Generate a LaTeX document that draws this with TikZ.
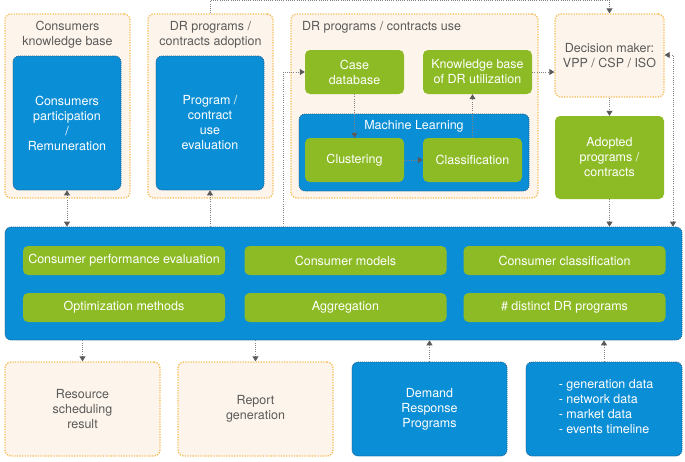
\documentclass[tikz,border=0pt]{standalone}
\usepackage{fontspec}
\setmainfont{TeX Gyre Heros}
\usetikzlibrary{arrows.meta}
\definecolor{drblue}{RGB}{10,142,214}
\definecolor{drdark}{RGB}{30,90,140}
\definecolor{drgreen}{RGB}{141,187,37}
\definecolor{drsand}{RGB}{253,245,235}
\definecolor{droran}{RGB}{246,190,90}
\definecolor{drtext}{RGB}{90,90,90}
\definecolor{drgrey}{RGB}{130,130,130}

\begin{document}
\begin{tikzpicture}[x=1pt,y=-1pt,
  every node/.style={font=\fontsize{12.5}{15}\selectfont, inner sep=0pt},
  obox/.style={draw=droran, fill=drsand, line width=1.3pt, dash pattern=on 1.3pt off 1.3pt, rounded corners=6pt},
  bbox/.style={draw=drdark, fill=drblue, line width=0.7pt, dash pattern=on 1pt off 1pt, rounded corners=6pt, text=white, align=center},
  gbox/.style={fill=drgreen, rounded corners=5pt, text=white, align=center},
  ttl/.style={text=drtext, align=center},
  link/.style={draw=drgrey, line width=0.8pt, dash pattern=on 1pt off 1.2pt, -{Triangle[width=6pt,length=5pt,color=drtext]}},
  both/.style={{Triangle[width=6pt,length=5pt,color=drtext]}-{Triangle[width=6pt,length=5pt,color=drtext]}}]

\useasboundingbox (0,0) rectangle (685,461);

% upper row
\node[obox, minimum width=125, minimum height=184] (kb) at (67.5,106) {};
\node[ttl] (kbt) at (67.5,35) {Consumers\\knowledge base};
\node[bbox, minimum width=108, minimum height=134] (cp) at (67,123) {Consumers\\participation\\/\\Remuneration};

\node[obox, minimum width=125, minimum height=184] (ad) at (210.5,106) {};
\node[ttl] (adt) at (210.5,35) {DR programs /\\contracts adoption};
\node[bbox, minimum width=108, minimum height=134] (ev) at (210,123) {Program /\\contract\\use\\evaluation};

\node[obox, minimum width=247, minimum height=184] (use) at (414.5,106) {};
\node[ttl, anchor=west] (uset) at (302,27) {DR programs / contracts use};
\node[gbox, minimum width=99, minimum height=44] (cd) at (354.5,72) {Case\\database};
\node[gbox, minimum width=109, minimum height=44] (kbu) at (477.5,72) {Knowledge base\\of DR utilization};
\node[bbox, minimum width=230, minimum height=77] (ml) at (414,152.5) {};
\node[text=white] (mlt) at (414,126) {Machine Learning};
\node[gbox, minimum width=99, minimum height=44] (cl) at (354.5,160) {Clustering};
\node[gbox, minimum width=99, minimum height=44] (cf) at (472.5,160) {Classification};

\node[obox, minimum width=109, minimum height=83] (dm) at (609.5,55.5) {};
\node[ttl] (dmt) at (609.5,56) {Decision maker:\\VPP / CSP / ISO};
\node[gbox, minimum width=109, minimum height=83] (ap) at (609.5,157.5) {Adopted\\programs /\\contracts};

% central block
\node[bbox, minimum width=677, minimum height=113] (bb) at (343.5,283.5) {};
\foreach \n/\x/\y/\t in {m1/124/260.5/Consumer performance evaluation,
                         m2/345.5/260.5/Consumer models,
                         m3/564.5/260.5/Consumer classification,
                         m4/124/307.5/Optimization methods,
                         m5/345.5/307.5/Aggregation,
                         m6/564.5/307.5/\# distinct DR programs}
{
\node[gbox, minimum width=202, minimum height=29] (\n) at (\x,\y) {\t};
}

% lower row
\node[obox, minimum width=155, minimum height=94] (rs) at (82.5,409) {};
\node[ttl] (rst) at (82.5,409) {Resource\\scheduling\\result};
\node[obox, minimum width=155, minimum height=94] (rg) at (255.5,409) {};
\node[ttl] (rgt) at (255.5,409) {Report\\generation};
\node[bbox, minimum width=155, minimum height=94] (dr) at (429.5,409) {Demand\\Response\\Programs};
\node[bbox, minimum width=156, minimum height=94] (dd) at (604,409) {};
\node[text=white, align=left] (ddt) at (606,407) {- generation data\\- network data\\- market data\\- events timeline};

% connectors
\coordinate (up) at (283,72);
\coordinate (rc) at (673,55);
\draw[link, both] (cp.south) -- (cp.south |- bb.north);
\draw[link] (ev.south |- bb.north) -- (ev.south);
\draw[link] (ad.north) -- ++(0,-13) -| (dm.north);
\draw[link] (up |- bb.north) -- (up) -- (cd.west);
\draw[link] (cd.south) -- (cd.south |- cl.north);
\draw[link] (cl.east) -- (cf.west);
\draw[link] (cf.north) -- (cf.north |- kbu.south);
\draw[link] (kbu.east) -- (kbu.east -| dm.west);
\draw[link] (dm.south) -- (ap.north);
\draw[link] (ap.south) -- (ap.south |- bb.north);
\draw[link, both] (rc |- bb.north) -- (rc) -- (rc -| dm.east);
\draw[link] (bb.south -| rs.north) -- (rs.north);
\draw[link] (bb.south -| rg.north) -- (rg.north);
\draw[link] (dr.north) -- (dr.north |- bb.south);
\draw[link] (dd.north) -- (dd.north |- bb.south);
\end{tikzpicture}
\end{document}
